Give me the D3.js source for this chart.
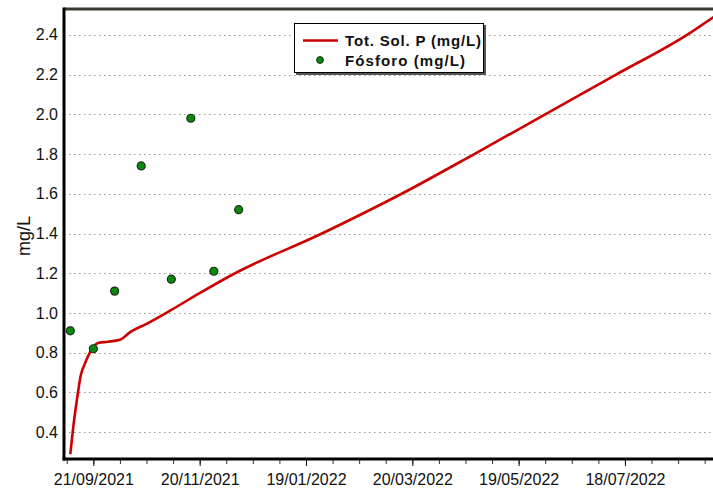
<!DOCTYPE html>
<html>
<head>
    <meta charset="utf-8">
    <title>Tot. Sol. P</title>
    <script type="text/javascript" src="https://cdn.jsdelivr.net/npm/d3@7/dist/d3.min.js"></script>
    <style type="text/css">
        html, body {
            margin: 0;
            background: #fff;
        }
        svg {
            display: block;
            font-family: "Liberation Sans", Arial, sans-serif;
        }
    </style>
</head>
<body>
<script type="text/javascript">
    // simulated curve
    var lineDates = ["2021-09-08","2021-09-10","2021-09-12","2021-09-14","2021-09-16","2021-09-19",
        "2021-09-21","2021-09-24","2021-09-29","2021-10-06","2021-10-12","2021-10-21","2021-11-03",
        "2021-11-20","2021-12-10","2022-01-28","2022-03-14","2022-04-24","2022-06-03",
        "2022-07-13","2022-08-22","2022-09-06"];
    var lineValues = [0.29, 0.45, 0.58, 0.69, 0.74, 0.80,
        0.83, 0.85, 0.855, 0.865, 0.905, 0.945, 1.01,
        1.10, 1.20, 1.40, 1.60, 1.80, 2.00,
        2.20, 2.40, 2.49];

    // observed samples
    var obsDates = ["2021-09-08","2021-09-21","2021-10-03","2021-10-18","2021-11-04","2021-11-15","2021-11-28","2021-12-12"];
    var obsValues = [0.91, 0.82, 1.11, 1.74, 1.17, 1.98, 1.21, 1.52];

    var yTicks = [0.4, 0.6, 0.8, 1.0, 1.2, 1.4, 1.6, 1.8, 2.0, 2.2, 2.4];
    var xTickLabels = ["21/09/2021","20/11/2021","19/01/2022","20/03/2022","19/05/2022","18/07/2022"];
    var legendLabels = ["Tot. Sol. P (mg/L)", "Fósforo (mg/L)"];
    var yTitle = "mg/L";

    var width = 713, height = 489;
    var mLeft = 64, mTop = 9, mBottom = 459;
    var parse = d3.timeParse("%Y-%m-%d");
    var parseLabel = d3.timeParse("%d/%m/%Y");
    var fmt = d3.timeFormat("%d/%m/%Y");

    var x = d3.scaleTime()
        .domain([parse("2021-09-05"), parse("2022-09-10")])
        .range([mLeft + 1, mLeft + 1 + 370 * 1.772]);
    var y = d3.scaleLinear().domain([0.26, 2.53]).range([mBottom + 1, mTop]);

    var svg = d3.select("body").append("svg")
        .attr("width", width).attr("height", height);

    // grid
    svg.append("g").selectAll("line").data(yTicks).enter().append("line")
        .attr("x1", mLeft).attr("x2", width + 10)
        .attr("y1", function (d) {return Math.round(y(d)) + 0.5;})
        .attr("y2", function (d) {return Math.round(y(d)) + 0.5;})
        .attr("stroke", "#9a9a88")
        .attr("stroke-width", 1.2)
        .attr("stroke-dasharray", "1.5,3.5");

    // y axis
    var yAxis = d3.axisLeft(y).tickValues(yTicks).tickSize(0).tickPadding(6)
        .tickFormat(d3.format(".1f"));
    var gy = svg.append("g").attr("transform", "translate(" + mLeft + ",0)").call(yAxis);
    gy.select(".domain").remove();
    gy.selectAll("text").attr("font-size", 16).attr("fill", "#111")
        .attr("font-family", "Liberation Sans, Arial, sans-serif");

    // x axis: major ticks every 60 days, minor every 15
    var majorTicks = xTickLabels.map(function (s) {return parseLabel(s);});
    var minorTicks = d3.timeDay.range(parse("2021-09-06"), x.domain()[1])
        .filter(function (d, i) {return i % 15 === 0;});

    var gxMinor = svg.append("g").attr("transform", "translate(0," + mBottom + ")")
        .call(d3.axisBottom(x).tickValues(minorTicks).tickSize(5).tickFormat(""));
    gxMinor.select(".domain").remove();
    gxMinor.selectAll("line").attr("stroke", "#333");

    var gx = svg.append("g").attr("transform", "translate(0," + mBottom + ")")
        .call(d3.axisBottom(x).tickValues(majorTicks).tickSize(7).tickPadding(8).tickFormat(fmt));
    gx.select(".domain").remove();
    gx.selectAll("line").attr("stroke", "#111");
    gx.selectAll("text").attr("font-size", 16).attr("fill", "#111")
        .attr("font-family", "Liberation Sans, Arial, sans-serif");

    // frame
    svg.append("line").attr("x1", mLeft).attr("x2", width + 10)
        .attr("y1", mTop).attr("y2", mTop)
        .attr("stroke", "#3a3a32").attr("stroke-width", 3);
    svg.append("line").attr("x1", mLeft).attr("x2", mLeft)
        .attr("y1", mTop - 1.5).attr("y2", mBottom + 1.5)
        .attr("stroke", "#000").attr("stroke-width", 3);
    svg.append("line").attr("x1", mLeft - 1.5).attr("x2", width + 10)
        .attr("y1", mBottom).attr("y2", mBottom)
        .attr("stroke", "#000").attr("stroke-width", 3);

    // y title
    svg.append("text")
        .attr("transform", "translate(30,236) rotate(-90)")
        .attr("text-anchor", "middle")
        .attr("font-size", 18)
        .attr("fill", "#111")
        .text(yTitle);

    // curve
    var lineData = lineDates.map(function (d, i) {return {date: parse(d), value: lineValues[i]};});
    var line = d3.line()
        .curve(d3.curveMonotoneX)
        .x(function (d) {return x(d.date);})
        .y(function (d) {return y(d.value);});
    svg.append("path").datum(lineData)
        .attr("d", line)
        .attr("fill", "none")
        .attr("stroke", "#cc0000")
        .attr("stroke-width", 2.6)
        .attr("stroke-linejoin", "round");

    // samples
    var obsData = obsDates.map(function (d, i) {return {date: parse(d), value: obsValues[i]};});
    svg.append("g").selectAll("circle").data(obsData).enter().append("circle")
        .attr("cx", function (d) {return x(d.date);})
        .attr("cy", function (d) {return y(d.value);})
        .attr("r", 4)
        .attr("fill", "#0a8a0a")
        .attr("stroke", "#1c2a1c")
        .attr("stroke-width", 1.2);

    // legend
    var lg = svg.append("g").attr("transform", "translate(294,23)");
    lg.append("rect").attr("x", 2).attr("y", 2).attr("width", 190).attr("height", 50)
        .attr("fill", "#555");
    lg.append("rect").attr("x", 0.5).attr("y", 0.5).attr("width", 189).attr("height", 49)
        .attr("fill", "#fff").attr("stroke", "#000").attr("stroke-width", 1);
    lg.append("line").attr("x1", 9).attr("x2", 44).attr("y1", 17.5).attr("y2", 17.5)
        .attr("stroke", "#cc0000").attr("stroke-width", 2.6);
    lg.append("circle").attr("cx", 26).attr("cy", 37).attr("r", 3.4)
        .attr("fill", "#0a8a0a").attr("stroke", "#1c2a1c").attr("stroke-width", 1);
    lg.selectAll("text.lab").data(legendLabels).enter().append("text")
        .attr("class", "lab")
        .attr("x", 51)
        .attr("y", function (d, i) {return 23 + i * 20;})
        .attr("font-size", 15)
        .attr("font-weight", "bold")
        .attr("fill", "#111")
        .attr("textLength", function (d, i) {return i === 0 ? 136 : 120;})
        .attr("lengthAdjust", "spacing")
        .text(function (d) {return d;});
</script>
</body>
</html>
